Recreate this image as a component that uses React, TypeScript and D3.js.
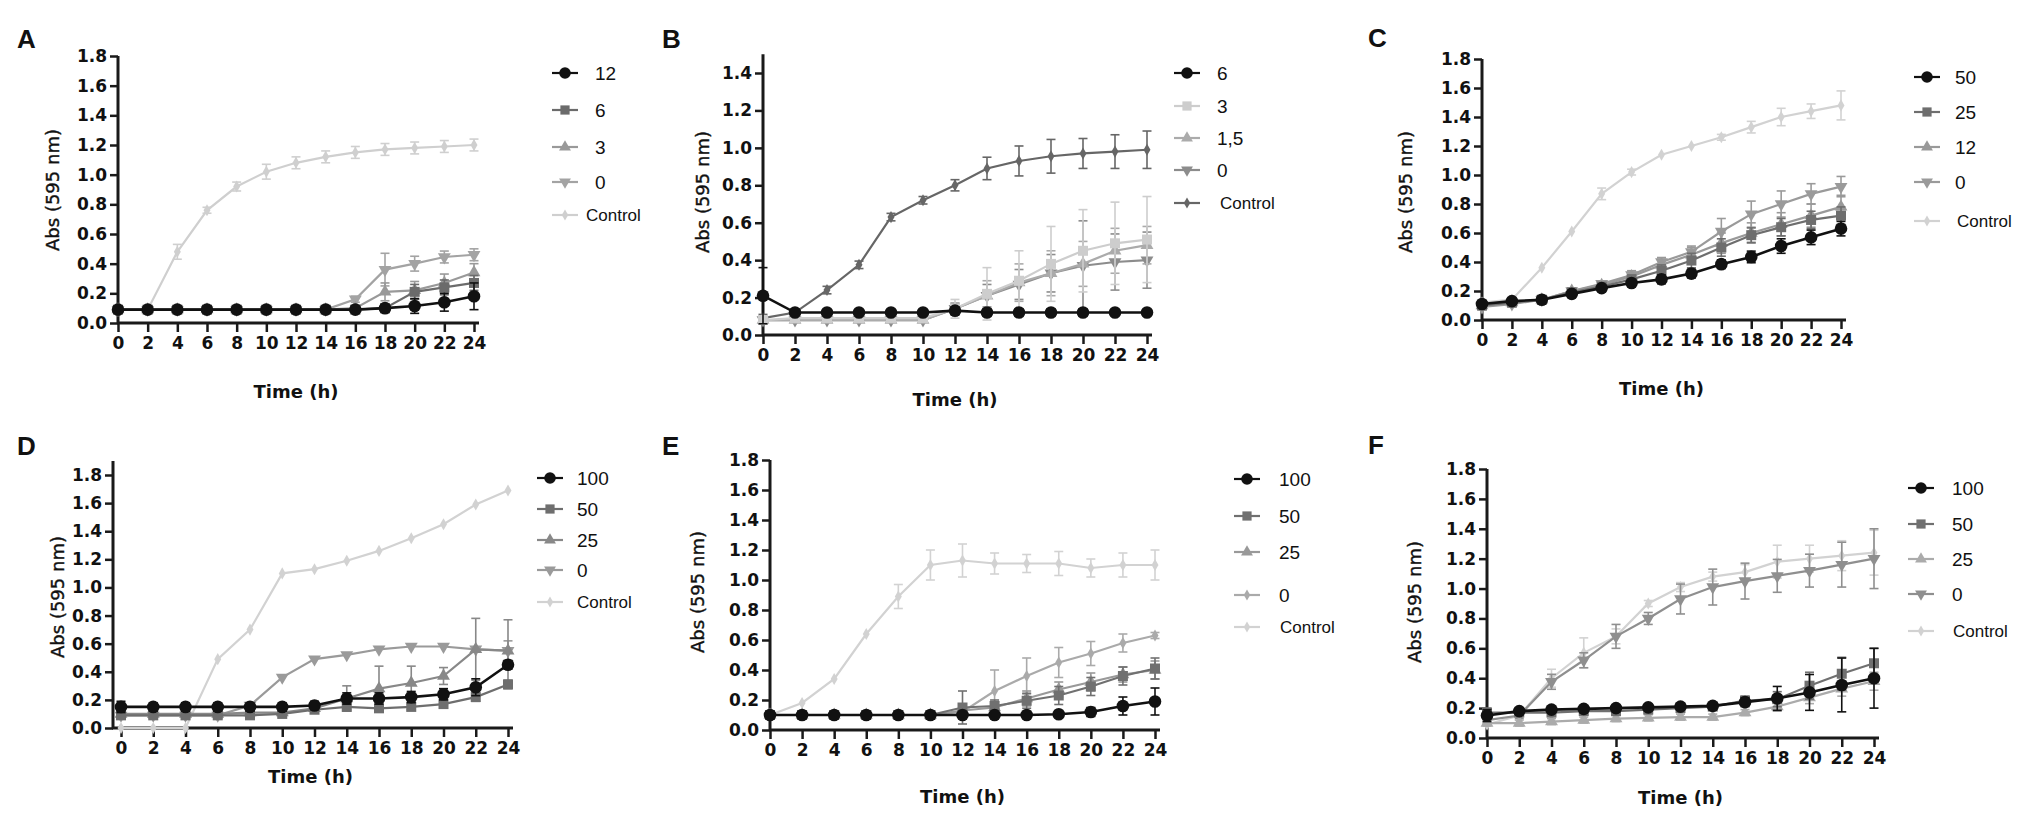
import * as d3 from 'd3';
import { useEffect, useRef } from 'react';

// sampling times (h)
const times = [0, 2, 4, 6, 8, 10, 12, 14, 16, 18, 20, 22, 24];
const ticks18 = [0, 0.2, 0.4, 0.6, 0.8, 1.0, 1.2, 1.4, 1.6, 1.8];
const ticks14 = [0, 0.2, 0.4, 0.6, 0.8, 1.0, 1.2, 1.4];

/* ---------- A ---------- */
const legendA = ['12', '6', '3', '0', 'Control'];
const a12 = [0.09, 0.09, 0.09, 0.09, 0.09, 0.09, 0.09, 0.09, 0.09, 0.1, 0.115, 0.14, 0.18];
const a12e = [0.01, 0.01, 0.01, 0.01, 0.01, 0.01, 0.01, 0.01, 0.01, 0.02, 0.05, 0.06, 0.09];
const a6 = [0.09, 0.09, 0.09, 0.09, 0.09, 0.09, 0.09, 0.09, 0.09, 0.1, 0.21, 0.24, 0.27];
const a6e = [0, 0, 0, 0, 0, 0, 0, 0, 0.01, 0.03, 0.05, 0.05, 0.05];
const a3 = [0.09, 0.09, 0.09, 0.09, 0.09, 0.09, 0.09, 0.09, 0.1, 0.21, 0.22, 0.27, 0.34];
const a3e = [0, 0, 0, 0, 0, 0, 0, 0, 0.02, 0.06, 0.06, 0.06, 0.06];
const a0 = [0.09, 0.09, 0.09, 0.09, 0.09, 0.09, 0.09, 0.09, 0.16, 0.36, 0.4, 0.445, 0.46];
const a0e = [0, 0, 0, 0, 0, 0, 0, 0, 0.02, 0.11, 0.05, 0.04, 0.04];
const aCtrl = [0.09, 0.09, 0.48, 0.76, 0.92, 1.02, 1.08, 1.12, 1.15, 1.17, 1.18, 1.19, 1.2];
const aCtrle = [0.01, 0.01, 0.05, 0.02, 0.03, 0.05, 0.04, 0.04, 0.04, 0.04, 0.04, 0.04, 0.04];

/* ---------- B ---------- */
const legendB = ['6', '3', '1,5', '0', 'Control'];
const b6 = [0.21, 0.12, 0.12, 0.12, 0.12, 0.12, 0.13, 0.12, 0.12, 0.12, 0.12, 0.12, 0.12];
const b6e = [0.15, 0.01, 0.01, 0.01, 0.01, 0.01, 0.02, 0.02, 0.02, 0.02, 0.02, 0.01, 0.01];
const b3 = [0.08, 0.09, 0.09, 0.09, 0.09, 0.09, 0.14, 0.22, 0.29, 0.38, 0.45, 0.49, 0.51];
const b3e = [0.01, 0.02, 0.02, 0.02, 0.02, 0.02, 0.05, 0.14, 0.16, 0.2, 0.22, 0.22, 0.23];
const b15 = [0.08, 0.08, 0.08, 0.08, 0.08, 0.08, 0.14, 0.21, 0.28, 0.33, 0.38, 0.45, 0.48];
const b15e = [0.01, 0.01, 0.01, 0.01, 0.01, 0.01, 0.03, 0.08, 0.1, 0.12, 0.12, 0.12, 0.1];
const b0 = [0.08, 0.08, 0.08, 0.08, 0.08, 0.08, 0.14, 0.21, 0.27, 0.33, 0.37, 0.39, 0.4];
const b0e = [0.01, 0.01, 0.01, 0.01, 0.01, 0.01, 0.03, 0.06, 0.08, 0.1, 0.24, 0.15, 0.15];
const bCtrl = [0.09, 0.12, 0.24, 0.375, 0.63, 0.72, 0.8, 0.89, 0.93, 0.955, 0.97, 0.98, 0.99];
const bCtrle = [0.02, 0.02, 0.02, 0.02, 0.02, 0.02, 0.03, 0.06, 0.08, 0.09, 0.08, 0.09, 0.1];

/* ---------- C ---------- */
const legendC = ['50', '25', '12', '0', 'Control'];
const c50 = [0.11, 0.13, 0.14, 0.18, 0.22, 0.255, 0.28, 0.32, 0.385, 0.435, 0.51, 0.57, 0.63];
const c50e = [0.02, 0.02, 0.02, 0.02, 0.02, 0.02, 0.03, 0.03, 0.03, 0.04, 0.05, 0.05, 0.05];
const c25 = [0.1, 0.12, 0.14, 0.19, 0.23, 0.28, 0.34, 0.41, 0.5, 0.585, 0.64, 0.69, 0.72];
const c25e = [0.02, 0.02, 0.02, 0.02, 0.02, 0.03, 0.04, 0.05, 0.06, 0.05, 0.06, 0.06, 0.06];
const c12 = [0.1, 0.12, 0.14, 0.2, 0.24, 0.3, 0.38, 0.45, 0.53, 0.6, 0.66, 0.72, 0.78];
const c12e = [0.02, 0.02, 0.02, 0.02, 0.02, 0.04, 0.05, 0.06, 0.07, 0.07, 0.08, 0.08, 0.08];
const c0 = [0.09, 0.11, 0.14, 0.2, 0.25, 0.31, 0.4, 0.47, 0.61, 0.73, 0.8, 0.87, 0.92];
const c0e = [0.02, 0.02, 0.02, 0.02, 0.02, 0.02, 0.03, 0.03, 0.09, 0.09, 0.09, 0.07, 0.07];
const cCtrl = [0.12, 0.14, 0.36, 0.61, 0.87, 1.02, 1.14, 1.2, 1.26, 1.33, 1.4, 1.44, 1.48];
const cCtrle = [0.02, 0.01, 0.01, 0.01, 0.04, 0.02, 0.01, 0.01, 0.02, 0.04, 0.06, 0.05, 0.1];

/* ---------- D ---------- */
const legendD = ['100', '50', '25', '0', 'Control'];
const d100 = [0.15, 0.15, 0.15, 0.15, 0.15, 0.15, 0.16, 0.21, 0.21, 0.22, 0.24, 0.29, 0.45];
const d100e = [0.04, 0.03, 0.03, 0.03, 0.03, 0.03, 0.03, 0.04, 0.04, 0.04, 0.04, 0.06, 0.03];
const d50 = [0.09, 0.09, 0.09, 0.09, 0.09, 0.1, 0.13, 0.15, 0.14, 0.15, 0.17, 0.22, 0.31];
const d50e = [0.02, 0.02, 0.02, 0.02, 0.02, 0.02, 0.02, 0.02, 0.02, 0.02, 0.02, 0.03, 0.03];
const d25 = [0.1, 0.1, 0.1, 0.1, 0.11, 0.11, 0.14, 0.21, 0.28, 0.32, 0.37, 0.56, 0.55];
const d25e = [0.02, 0.02, 0.02, 0.02, 0.02, 0.02, 0.03, 0.09, 0.16, 0.12, 0.06, 0.22, 0.22];
const d0 = [0.09, 0.09, 0.09, 0.09, 0.16, 0.36, 0.49, 0.52, 0.56, 0.58, 0.58, 0.56, 0.55];
const d0e = [0.02, 0.02, 0.02, 0.02, 0.02, 0.01, 0.01, 0.01, 0.01, 0.01, 0.01, 0.01, 0.07];
const dCtrl = [0, 0, 0, 0.49, 0.7, 1.1, 1.13, 1.19, 1.26, 1.35, 1.45, 1.59, 1.69];
const dCtrle = [0, 0, 0, 0, 0, 0, 0, 0, 0, 0, 0, 0, 0];

/* ---------- E ---------- */
const legendE = ['100', '50', '25', '0', 'Control'];
const e100 = [0.1, 0.1, 0.1, 0.1, 0.1, 0.1, 0.1, 0.1, 0.1, 0.105, 0.12, 0.16, 0.19];
const e100e = [0.02, 0.02, 0.02, 0.02, 0.02, 0.02, 0.02, 0.02, 0.02, 0.02, 0.03, 0.06, 0.09];
const e50 = [0.1, 0.1, 0.1, 0.1, 0.1, 0.1, 0.15, 0.16, 0.195, 0.23, 0.29, 0.36, 0.41];
const e50e = [0.01, 0.01, 0.01, 0.01, 0.01, 0.01, 0.11, 0.04, 0.05, 0.06, 0.06, 0.06, 0.07];
const e25 = [0.1, 0.1, 0.1, 0.1, 0.1, 0.1, 0.13, 0.15, 0.21, 0.27, 0.32, 0.37, 0.4];
const e25e = [0.01, 0.01, 0.01, 0.01, 0.01, 0.01, 0.03, 0.04, 0.05, 0.05, 0.06, 0.05, 0.06];
const e0 = [0.1, 0.1, 0.1, 0.1, 0.1, 0.1, 0.12, 0.26, 0.36, 0.45, 0.51, 0.58, 0.63];
const e0e = [0.01, 0.01, 0.01, 0.01, 0.01, 0.01, 0.03, 0.14, 0.12, 0.1, 0.08, 0.06, 0.02];
const eCtrl = [0.1, 0.18, 0.34, 0.64, 0.89, 1.1, 1.13, 1.11, 1.11, 1.11, 1.08, 1.1, 1.1];
const eCtrle = [0.01, 0.01, 0.01, 0.01, 0.08, 0.1, 0.11, 0.07, 0.06, 0.08, 0.06, 0.08, 0.1];

/* ---------- F ---------- */
const legendF = ['100', '50', '25', '0', 'Control'];
const f100 = [0.15, 0.18, 0.19, 0.195, 0.2, 0.205, 0.21, 0.215, 0.24, 0.265, 0.305, 0.355, 0.4];
const f100e = [0.04, 0.02, 0.02, 0.02, 0.02, 0.02, 0.02, 0.02, 0.03, 0.08, 0.12, 0.18, 0.2];
const f50 = [0.17, 0.17, 0.17, 0.18, 0.18, 0.19, 0.2, 0.21, 0.25, 0.26, 0.35, 0.43, 0.5];
const f50e = [0.03, 0.02, 0.02, 0.02, 0.02, 0.02, 0.02, 0.02, 0.03, 0.05, 0.09, 0.11, 0.1];
const f25 = [0.1, 0.1, 0.11, 0.12, 0.13, 0.135, 0.14, 0.14, 0.17, 0.21, 0.27, 0.33, 0.38];
const f25e = [0.02, 0.02, 0.02, 0.02, 0.02, 0.02, 0.02, 0.02, 0.02, 0.03, 0.04, 0.05, 0.06];
const f0 = [0.12, 0.15, 0.376, 0.52, 0.68, 0.8, 0.93, 1.01, 1.05, 1.085, 1.12, 1.16, 1.2];
const f0e = [0.02, 0.02, 0.05, 0.05, 0.08, 0.04, 0.1, 0.12, 0.12, 0.11, 0.11, 0.15, 0.2];
const fCtrl = [0.09, 0.15, 0.4, 0.57, 0.68, 0.9, 1.01, 1.08, 1.11, 1.18, 1.2, 1.22, 1.24];
const fCtrle = [0.01, 0.01, 0.06, 0.1, 0.05, 0.02, 0.03, 0.03, 0.05, 0.11, 0.09, 0.1, 0.15];

type Shape = 'circle' | 'square' | 'triangle' | 'triangleDown' | 'diamond';

const mk = (labels: string[], vals: number[][], errs: number[][], colors: string[], shapes: Shape[]) =>
  labels.map((name, i) => ({ name, values: vals[i], err: errs[i], color: colors[i], shape: shapes[i] }));

const stdShapes: Shape[] = ['circle', 'square', 'triangle', 'triangleDown', 'diamond'];

const panels = [
  {
    letter: 'A', lx: 17, ly: 48, axisX: 118, x0: 118, x24: 474, y0: 323, yTop: 56, topTick: 1.8, axisTop: 1.8,
    yTicks: ticks18, ylab: [52, 190], titleY: 398, legX: 565, legTextX: 595, ctrlTextX: 586,
    legRows: [73, 110, 147, 182, 215],
    series: mk(legendA, [a12, a6, a3, a0, aCtrl], [a12e, a6e, a3e, a0e, aCtrle],
      ['#111', '#6b6b6b', '#999', '#a3a3a3', '#cfcfcf'], stdShapes),
  },
  {
    letter: 'B', lx: 662, ly: 48, axisX: 763, x0: 763, x24: 1147, y0: 335, yTop: 73, topTick: 1.4, axisTop: 1.5,
    yTicks: ticks14, ylab: [702, 192], titleY: 406, legX: 1187, legTextX: 1217, ctrlTextX: 1220,
    legRows: [73, 106, 138, 170, 203],
    series: mk(legendB, [b6, b3, b15, b0, bCtrl], [b6e, b3e, b15e, b0e, bCtrle],
      ['#111', '#cdcdcd', '#ababab', '#8c8c8c', '#666'], stdShapes),
  },
  {
    letter: 'C', lx: 1368, ly: 47, axisX: 1482, x0: 1482, x24: 1841, y0: 320, yTop: 59, topTick: 1.8, axisTop: 1.8,
    yTicks: ticks18, ylab: [1405, 192], titleY: 395, legX: 1927, legTextX: 1955, ctrlTextX: 1957,
    legRows: [77, 112, 147, 182, 221],
    series: mk(legendC, [c50, c25, c12, c0, cCtrl], [c50e, c25e, c12e, c0e, cCtrle],
      ['#111', '#6e6e6e', '#999', '#9a9a9a', '#d2d2d2'], stdShapes),
  },
  {
    letter: 'D', lx: 17, ly: 455, axisX: 113, x0: 121, x24: 508, y0: 728, yTop: 475, topTick: 1.8, axisTop: 1.9,
    yTicks: ticks18, ylab: [57, 597], titleY: 783, legX: 550, legTextX: 577, ctrlTextX: 577,
    legRows: [478, 509, 540, 570, 602],
    series: mk(legendD, [d100, d50, d25, d0, dCtrl], [d100e, d50e, d25e, d0e, dCtrle],
      ['#111', '#6e6e6e', '#888', '#9a9a9a', '#d2d2d2'], stdShapes),
  },
  {
    letter: 'E', lx: 662, ly: 455, axisX: 770, x0: 770, x24: 1155, y0: 730, yTop: 460, topTick: 1.8, axisTop: 1.8,
    yTicks: ticks18, ylab: [697, 592], titleY: 803, legX: 1247, legTextX: 1279, ctrlTextX: 1280,
    legRows: [479, 516, 552, 595, 627],
    series: mk(legendE, [e100, e50, e25, e0, eCtrl], [e100e, e50e, e25e, e0e, eCtrle],
      ['#111', '#707070', '#999', '#aaa', '#d2d2d2'], ['circle', 'square', 'triangle', 'diamond', 'diamond']),
  },
  {
    letter: 'F', lx: 1368, ly: 454, axisX: 1487, x0: 1487, x24: 1874, y0: 738, yTop: 469, topTick: 1.8, axisTop: 1.8,
    yTicks: ticks18, ylab: [1414, 602], titleY: 804, legX: 1921, legTextX: 1952, ctrlTextX: 1953,
    legRows: [488, 524, 559, 594, 631],
    series: mk(legendF, [f100, f50, f25, f0, fCtrl], [f100e, f50e, f25e, f0e, fCtrle],
      ['#111', '#707070', '#ababab', '#8f8f8f', '#d2d2d2'], stdShapes),
  },
];

const symbolPath = (shape: Shape, big = 1) => {
  switch (shape) {
    case 'circle':
      return d3.symbol(d3.symbolCircle, 125 * big)();
    case 'square':
      return d3.symbol(d3.symbolSquare, 100 * big)();
    case 'triangle':
    case 'triangleDown':
      return d3.symbol(d3.symbolTriangle, 72 * big)();
    default:
      return d3.symbol(d3.symbolDiamond, 42 * big)();
  }
};

export default function App() {
  const ref = useRef<SVGSVGElement | null>(null);

  useEffect(() => {
    if (!ref.current) return;
    document.body.style.margin = '0';
    const svg = d3.select(ref.current);
    svg.selectAll('*').remove();
    svg.append('rect').attr('width', 2025).attr('height', 817).attr('fill', '#fff');

    panels.forEach((p) => {
      const g = svg.append('g');
      const x = d3.scaleLinear().domain([0, 24]).range([p.x0, p.x24]);
      const y = d3.scaleLinear().domain([0, p.topTick]).range([p.y0, p.yTop]);

      /* panel letter */
      g.append('text')
        .attr('x', p.lx)
        .attr('y', p.ly)
        .attr('font-family', '"Liberation Sans", Arial, sans-serif')
        .attr('font-weight', 'bold')
        .attr('font-size', 26)
        .attr('fill', '#111')
        .text(p.letter);

      /* axes */
      const xAxis = g
        .append('g')
        .attr('transform', `translate(0,${p.y0})`)
        .call(d3.axisBottom(x).tickValues(times).tickSize(9).tickSizeOuter(0).tickPadding(5));
      xAxis.select('.domain').remove();
      const yAxis = g
        .append('g')
        .attr('transform', `translate(${p.axisX},0)`)
        .call(
          d3
            .axisLeft(y)
            .tickValues(p.yTicks)
            .tickFormat(d3.format('.1f'))
            .tickSize(8)
            .tickSizeOuter(0)
            .tickPadding(3)
        );
      yAxis.select('.domain').remove();
      [xAxis, yAxis].forEach((a) => {
        a.attr('font-family', '"DejaVu Sans", sans-serif')
          .attr('font-size', 17)
          .attr('font-weight', 'bold');
        a.selectAll('line').attr('stroke', '#1a1a1a').attr('stroke-width', 2.5);
        a.selectAll('text').attr('fill', '#111');
      });

      g.append('line')
        .attr('x1', p.axisX - 1)
        .attr('x2', p.x24 + 5)
        .attr('y1', p.y0)
        .attr('y2', p.y0)
        .attr('stroke', '#1a1a1a')
        .attr('stroke-width', 3);
      g.append('line')
        .attr('x1', p.axisX)
        .attr('x2', p.axisX)
        .attr('y1', p.y0)
        .attr('y2', y(p.axisTop))
        .attr('stroke', '#1a1a1a')
        .attr('stroke-width', 3);

      /* axis titles */
      g.append('text')
        .attr('transform', `translate(${p.ylab[0]},${p.ylab[1]}) rotate(-90)`)
        .attr('text-anchor', 'middle')
        .attr('dominant-baseline', 'central')
        .attr('font-family', '"DejaVu Sans", sans-serif')
        .attr('font-size', 18)
        .attr('fill', '#111')
        .attr('stroke', '#111')
        .attr('stroke-width', 0.4)
        .text('Abs (595 nm)');
      g.append('text')
        .attr('x', (p.axisX + p.x24) / 2)
        .attr('y', p.titleY)
        .attr('text-anchor', 'middle')
        .attr('font-family', '"DejaVu Sans", sans-serif')
        .attr('font-size', 18)
        .attr('font-weight', 'bold')
        .attr('fill', '#111')
        .text('Time (h)');

      /* series: drawn in reverse so the first one sits on top */
      const line = d3
        .line<number>()
        .x((_, i) => x(times[i]))
        .y((d) => y(d));

      [...p.series].reverse().forEach((s) => {
        const sg = g.append('g');
        sg.append('path')
          .attr('d', line(s.values))
          .attr('fill', 'none')
          .attr('stroke', s.color)
          .attr('stroke-width', s.shape === 'circle' ? 2.6 : 2.2);

        sg.selectAll('g.err')
          .data(s.values.map((v, i) => ({ v, e: s.err[i], t: times[i] })).filter((d) => d.e > 0.012))
          .enter()
          .append('g')
          .each(function (d) {
            const eg = d3.select(this);
            const cx = x(d.t);
            const top = y(d.v + d.e);
            const bot = y(d.v - d.e);
            eg.append('line').attr('x1', cx).attr('x2', cx).attr('y1', top).attr('y2', bot);
            eg.append('line').attr('x1', cx - 4.5).attr('x2', cx + 4.5).attr('y1', top).attr('y2', top);
            eg.append('line').attr('x1', cx - 4.5).attr('x2', cx + 4.5).attr('y1', bot).attr('y2', bot);
          })
          .selectAll('line')
          .attr('stroke', s.color)
          .attr('stroke-width', 1.6);

        sg.selectAll('path.pt')
          .data(s.values)
          .enter()
          .append('path')
          .attr('class', 'pt')
          .attr('d', symbolPath(s.shape as Shape))
          .attr(
            'transform',
            (d, i) => `translate(${x(times[i])},${y(d)})${s.shape === 'triangleDown' ? ' rotate(180)' : ''}`
          )
          .attr('fill', s.color);
      });

      /* legend */
      p.series.forEach((s, k) => {
        const ry = p.legRows[k];
        const isCtrl = s.name === 'Control';
        g.append('line')
          .attr('x1', p.legX - 13)
          .attr('x2', p.legX + 13)
          .attr('y1', ry)
          .attr('y2', ry)
          .attr('stroke', s.color)
          .attr('stroke-width', 2.2);
        g.append('path')
          .attr('d', symbolPath(s.shape as Shape, 0.85))
          .attr('transform', `translate(${p.legX},${ry})${s.shape === 'triangleDown' ? ' rotate(180)' : ''}`)
          .attr('fill', s.color);
        g.append('text')
          .attr('x', isCtrl ? p.ctrlTextX : p.legTextX)
          .attr('y', ry)
          .attr('dominant-baseline', 'central')
          .attr('font-family', '"Liberation Sans", Arial, sans-serif')
          .attr('font-size', isCtrl ? 17 : 19)
          .attr('fill', '#111')
          .text(s.name);
      });
    });
  }, []);

  return <svg ref={ref} width={2025} height={817} style={{ display: 'block' }} />;
}
